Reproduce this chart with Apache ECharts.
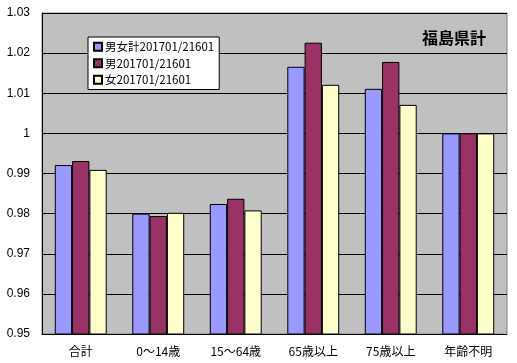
<!DOCTYPE html>
<html><head><meta charset="utf-8">
<script src="https://cdn.jsdelivr.net/npm/echarts@6/dist/echarts.min.js"></script>
<style>html,body{margin:0;padding:0;background:#fff}#c{width:517px;height:363px}</style>
</head><body><div id="c"></div>
<script>
const categories = ['合計','0～14歳','15～64歳','65歳以上','75歳以上','年齢不明'];
const seriesNames = ['男女計201701/21601','男201701/21601','女201701/21601'];
const totalVals = [0.9921, 0.9800, 0.9824, 1.0166, 1.0111, 1.0000];
const maleVals = [0.9931, 0.9794, 0.9837, 1.0226, 1.0178, 1.0000];
const femaleVals = [0.9909, 0.9802, 0.9808, 1.0121, 1.0071, 1.0000];
const colors = ['#9999FF','#993366','#FFFFCC'];
const chart = echarts.init(document.getElementById('c'), null, {renderer:'canvas'});
const jp = '"Noto Sans CJK JP", sans-serif';
function mk(name, data, color){
  return {name, type:'bar', data, barGap:'0%', barCategoryGap:'33%',
    itemStyle:{color, borderColor:'#000', borderWidth:1}};
}
chart.setOption({
  animation:false,
  title:{text:'福島県計', right:26, top:25, textStyle:{fontFamily:jp, fontSize:16, fontWeight:'bold', color:'#000'}},
  legend:{orient:'vertical', left:88, top:37, backgroundColor:'#fff', borderColor:'#000', borderWidth:1,
    padding:[4,5,4,5], itemWidth:8, itemHeight:8, itemGap:5, icon:'rect',
    textStyle:{fontFamily:jp, fontSize:11.5, color:'#000', padding:[0,0,0,-2]}, data:seriesNames},
  grid:{left:42, top:13, right:10, bottom:29, show:true, backgroundColor:'#C0C0C0', borderColor:'#808080', borderWidth:1},
  xAxis:{type:'category', data:categories,
    axisLine:{lineStyle:{color:'#000', width:1}},
    axisTick:{inside:true, length:4, lineStyle:{color:'#000'}},
    axisLabel:{fontFamily:jp, fontSize:12, color:'#000', margin:11}},
  yAxis:{type:'value', min:0.95, max:1.03, interval:0.01,
    axisLine:{show:true, lineStyle:{color:'#000'}},
    axisTick:{show:true, inside:true, length:4, lineStyle:{color:'#000'}},
    splitLine:{lineStyle:{color:'#000', width:1}},
    axisLabel:{fontFamily:'"Liberation Sans", Arial, sans-serif', fontSize:12, color:'#000', margin:12,
      formatter:v=>String(parseFloat(v.toFixed(2)))}},
  series:[mk(seriesNames[0], totalVals, colors[0]), mk(seriesNames[1], maleVals, colors[1]), mk(seriesNames[2], femaleVals, colors[2])]
});
</script></body></html>
